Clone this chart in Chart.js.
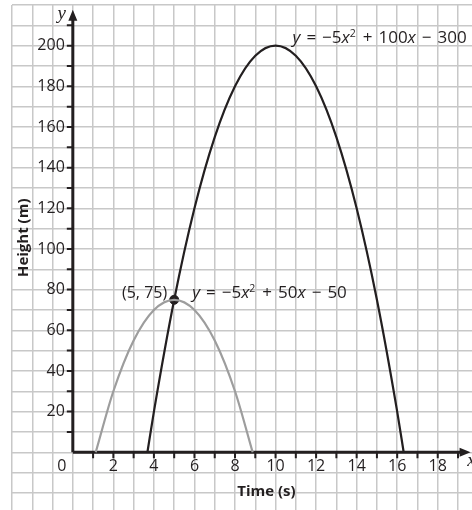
<!DOCTYPE html>
<html>
<head>
<meta charset="utf-8">
<script src="https://cdn.jsdelivr.net/npm/chart.js@4"></script>
<style>
  html, body { margin: 0; padding: 0; background: #fff; }
  canvas { display: block; }
</style>
</head>
<body>
<canvas id="heightChart" width="472" height="510"></canvas>
<script>
// y = -5x^2 + 100x - 300
const steepTime = [3.68, 4, 5, 6, 7, 8, 9, 10, 11, 12, 13, 14, 15, 16, 16.32];
const steepHeight = [0, 20, 75, 120, 155, 180, 195, 200, 195, 180, 155, 120, 75, 20, 0];

// y = -5x^2 + 50x - 50
const lowTime = [1.13, 2, 3, 4, 5, 6, 7, 8, 8.87];
const lowHeight = [0, 30, 55, 70, 75, 70, 55, 30, 0];

// crossing point of the two paths
const crossTime = [5];
const crossHeight = [75];

// numbered ticks on the axes
const timeTicks = [2, 4, 6, 8, 10, 12, 14, 16, 18];
const heightTicks = [20, 40, 60, 80, 100, 120, 140, 160, 180, 200];

const INK = '#231f20';
const FONT = '"Open Sans", "Noto Sans", sans-serif';

const toPoints = (xs, ys) => xs.map((x, i) => ({ x, y: ys[i] }));

function range(from, to, step) {
  const out = [];
  for (let v = from; v <= to + 1e-9; v += step) out.push({ value: v });
  return out;
}

// equation text: italic letters, raised exponent, wide gaps round operators
function drawRich(ctx, parts, x, y, size, gap) {
  let cx = x;
  for (const p of parts) {
    if (p.gap) { cx += gap; continue; }
    const fs = p.sup ? size * 0.62 : size;
    ctx.font = `${p.it ? 'italic ' : ''}${fs}px ${FONT}`;
    ctx.fillText(p.t, cx, p.sup ? y - size * 0.36 : y);
    cx += ctx.measureText(p.t).width + (p.sup ? 1 : 0);
  }
}

function quadratic(b, c) {
  const G = { gap: true };
  return [
    { t: 'y', it: true }, G, { t: '=' }, G, { t: '\u2212' }, { t: '5' }, { t: 'x', it: true },
    { t: '2', sup: true }, G, { t: '+' }, G, { t: String(b) }, { t: 'x', it: true },
    G, { t: '\u2212' }, G, { t: String(c) }
  ];
}

const axesPlugin = {
  id: 'axes',
  beforeDatasetsDraw(chart) {
    const { ctx, scales: { x, y } } = chart;
    const x0 = x.getPixelForValue(0);
    const y0 = y.getPixelForValue(0);
    const xTip = x.getPixelForValue(19.62);
    const yTip = y.getPixelForValue(217.7);

    ctx.save();
    ctx.strokeStyle = INK;
    ctx.fillStyle = INK;

    // axis lines
    ctx.lineWidth = 3;
    ctx.beginPath();
    ctx.moveTo(x0, y0);
    ctx.lineTo(xTip - 8, y0);
    ctx.moveTo(x0, y0);
    ctx.lineTo(x0, yTip + 8);
    ctx.stroke();

    // arrow heads
    ctx.beginPath();
    ctx.moveTo(xTip, y0);
    ctx.lineTo(xTip - 11, y0 - 4.5);
    ctx.lineTo(xTip - 11, y0 + 4.5);
    ctx.closePath();
    ctx.moveTo(x0, yTip);
    ctx.lineTo(x0 - 4.5, yTip + 11);
    ctx.lineTo(x0 + 4.5, yTip + 11);
    ctx.closePath();
    ctx.fill();

    // small tick marks
    ctx.lineWidth = 2;
    ctx.beginPath();
    for (let t = 1; t <= 19; t++) {
      const px = x.getPixelForValue(t);
      ctx.moveTo(px, y0);
      ctx.lineTo(px, y0 + 6);
    }
    for (let h = 10; h <= 210; h += 10) {
      const py = y.getPixelForValue(h);
      ctx.moveTo(x0 - 6, py);
      ctx.lineTo(x0, py);
    }
    ctx.stroke();

    // tick labels
    ctx.font = `16px ${FONT}`;
    ctx.textBaseline = 'middle';
    ctx.textAlign = 'center';
    timeTicks.forEach(t => ctx.fillText(String(t), x.getPixelForValue(t), y0 + 14));
    ctx.fillText('0', x0 - 11, y0 + 14);
    ctx.textAlign = 'right';
    heightTicks.forEach(h => ctx.fillText(String(h), x0 - 8, y.getPixelForValue(h)));

    // axis titles
    ctx.font = `bold 15px ${FONT}`;
    ctx.textAlign = 'center';
    ctx.fillText('Time (s)', x.getPixelForValue(9.55), y0 + 39);
    ctx.save();
    ctx.translate(24, y.getPixelForValue(105.5));
    ctx.rotate(-Math.PI / 2);
    ctx.fillText('Height (m)', 0, 0);
    ctx.restore();

    // axis letters
    ctx.font = `italic 19px "Liberation Serif", "DejaVu Serif", serif`;
    ctx.fillText('y', x0 - 11, yTip + 4);
    ctx.fillText('x', xTip + 1, y0 + 9);
    ctx.restore();
  },
  afterDatasetsDraw(chart) {
    const { ctx, scales: { x, y } } = chart;
    ctx.save();
    ctx.fillStyle = INK;
    ctx.textBaseline = 'alphabetic';
    ctx.textAlign = 'left';

    const px = x.getPixelForValue(crossTime[0]);
    const py = y.getPixelForValue(crossHeight[0]);
    drawRich(ctx, quadratic(50, 50), px + 18, py - 2, 17, 6);

    ctx.font = `16px ${FONT}`;
    ctx.textAlign = 'right';
    ctx.fillText(`(${crossTime[0]}, ${crossHeight[0]})`, px - 7, py - 2);

    ctx.textAlign = 'left';
    const vx = x.getPixelForValue(10);
    const vy = y.getPixelForValue(200);
    drawRich(ctx, quadratic(100, 300), vx + 17, vy - 3, 17, 6);
    ctx.restore();
  }
};

new Chart(document.getElementById('heightChart'), {
  type: 'scatter',
  data: {
    datasets: [
      {
        data: toPoints(lowTime, lowHeight),
        showLine: true,
        borderColor: '#9d9d9d',
        borderWidth: 2.2,
        pointRadius: 0,
        cubicInterpolationMode: 'monotone'
      },
      {
        data: toPoints(steepTime, steepHeight),
        showLine: true,
        borderColor: INK,
        borderWidth: 2.2,
        pointRadius: 0,
        cubicInterpolationMode: 'monotone'
      },
      {
        data: toPoints(crossTime, crossHeight),
        pointRadius: 4.5,
        pointBackgroundColor: INK,
        pointBorderColor: INK
      }
    ]
  },
  options: {
    responsive: false,
    animation: false,
    layout: { autoPadding: false, padding: { left: 12, top: 5, right: 0, bottom: 0 } },
    plugins: { legend: { display: false }, tooltip: { enabled: false } },
    scales: {
      x: {
        type: 'linear',
        min: -3,
        max: 19.69,
        afterBuildTicks: axis => { axis.ticks = range(-3, 19, 1); },
        ticks: { display: false },
        border: { display: false },
        grid: { color: '#c8c8c8', lineWidth: 1.5, drawTicks: false }
      },
      y: {
        type: 'linear',
        min: -28.4,
        max: 220,
        afterBuildTicks: axis => { axis.ticks = range(-20, 220, 10); },
        ticks: { display: false },
        border: { display: false },
        grid: { color: '#c8c8c8', lineWidth: 1.5, drawTicks: false }
      }
    }
  },
  plugins: [axesPlugin]
});
</script>
</body>
</html>
